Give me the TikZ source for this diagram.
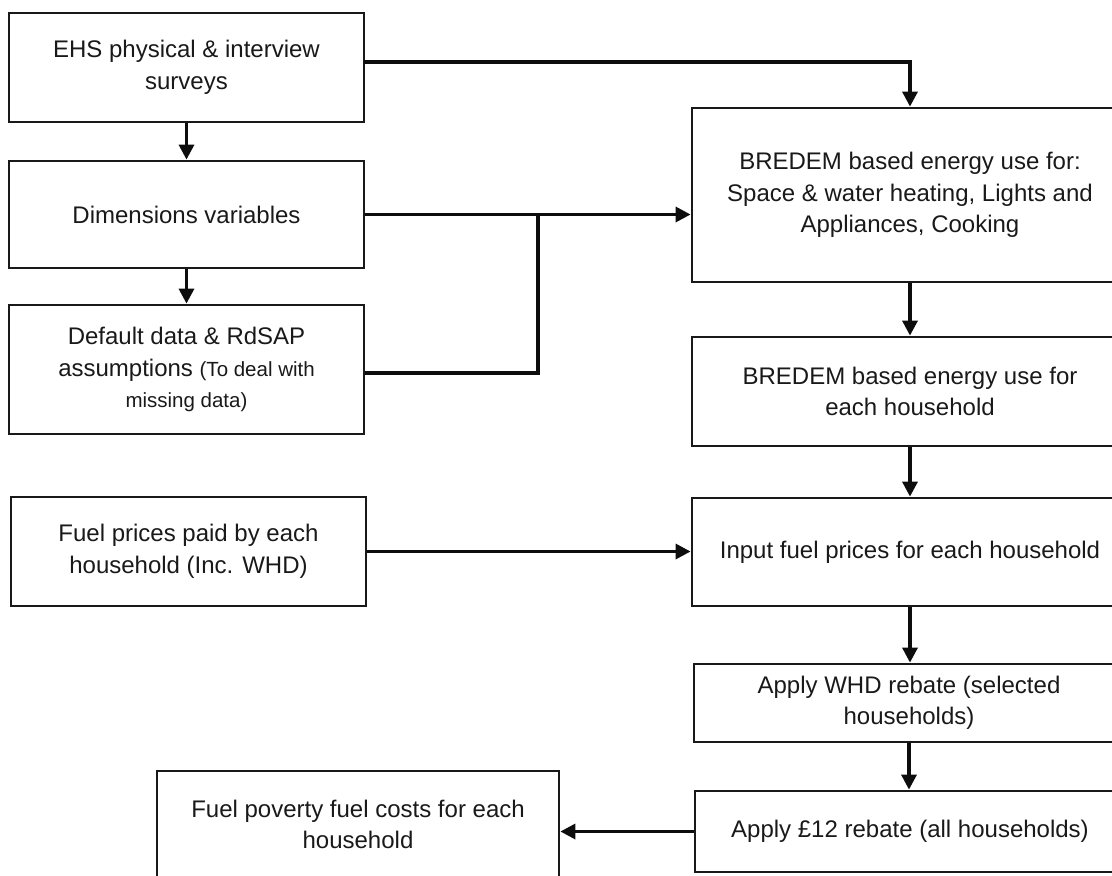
\documentclass[tikz,border=0pt]{standalone}
\usepackage{fontspec}
\setmainfont{Liberation Sans}
\usetikzlibrary{arrows.meta}
\begin{document}
\begin{tikzpicture}[x=1pt,y=-1pt,
  box/.style={draw=black!90, line width=2.8pt, rectangle, inner sep=0pt, align=center,
    font=\fontsize{24}{31.5}\selectfont, text=black!90},
  arr/.style={draw=black!95, line width=3.3pt, -{Triangle[length=15pt,width=15pt]}},
  con/.style={draw=black!95, line width=3.3pt}]
\useasboundingbox (0,0) rectangle (1112,876);
\clip (0,0) rectangle (1112,876);
\node[box, minimum width=355, minimum height=109] (ehs) at (186.5,67.5) {EHS physical \& interview\\surveys};
\node[box, minimum width=355, minimum height=107] (dim) at (186.5,214.5) {Dimensions variables};
\node[box, minimum width=355, minimum height=129] (def) at (186.5,369.5) {Default data \& RdSAP\\assumptions {\fontsize{20.5}{31}\selectfont (To deal with}\\{\fontsize{20.5}{31}\selectfont missing data)}};
\node[box, minimum width=355, minimum height=109] (fuel) at (188.5,551.5) {Fuel prices paid by each\\household (Inc. WHD)};
\node[box, minimum width=436, minimum height=174] (br1) at (910,195) {BREDEM based energy use for:\\Space \& water heating, Lights and\\Appliances, Cooking};
\node[box, minimum width=436, minimum height=109] (br2) at (910,391.5) {BREDEM based energy use for\\each household};
\node[box, minimum width=436, minimum height=108] (inp) at (910,552) {Input fuel prices for each household};
\node[box, minimum width=430, minimum height=78] (whd) at (909,703) {Apply WHD rebate (selected\\households)};
\node[box, minimum width=430, minimum height=81] (r12) at (910,831.5) {Apply £12 rebate (all households)};
\node[box, minimum width=402, minimum height=107] (fp) at (358,824.5) {Fuel poverty fuel costs for each\\household};
\coordinate (c1) at (364,62);
\coordinate (j1) at (538,373);
\coordinate (j2) at (538,214.5);
\draw[arr] (ehs.south) -- (dim.north);
\draw[arr] (dim.south) -- (def.north);
\draw[arr] (c1) -| (br1.north);
\draw[arr] (dim.east) -- (dim.east -| br1.west);
\draw[con] (def.east |- j1) -- (j1) -- (j2);
\draw[arr] (fuel.east) -- (fuel.east -| inp.west);
\draw[arr] (br1.south) -- (br2.north);
\draw[arr] (br2.south) -- (inp.north);
\draw[arr] (inp.south) -- (inp.south |- whd.north);
\draw[arr] (whd.south) -- (whd.south |- r12.north);
\draw[arr] (r12.west) -- (r12.west -| fp.east);
\end{tikzpicture}
\end{document}
